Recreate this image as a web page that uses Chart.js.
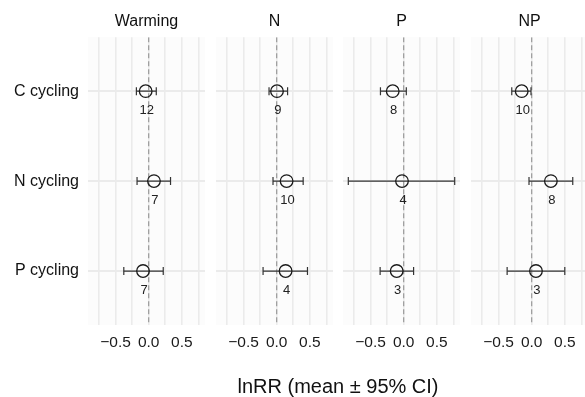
<!DOCTYPE html>
<html>
<head>
<meta charset="utf-8">
<script src="https://cdn.jsdelivr.net/npm/chart.js@4.4.0/dist/chart.umd.min.js"></script>
<style>
  html, body { margin: 0; padding: 0; background: #fff; overflow: hidden; }
  #wrap { position: relative; width: 585px; height: 397px; overflow: hidden; }
  #wrap canvas { position: absolute; left: 0; top: 0; }
  #xtitle { position: absolute; left: 88px; width: 500px; top: 374px; text-align: center;
            font: 20px 'Liberation Sans', Arial, sans-serif; line-height: 24px; color: #111; }
</style>
</head>
<body>
<div id="wrap">
  <canvas id="c0" width="600" height="397"></canvas>
  <canvas id="c1" width="600" height="397"></canvas>
  <canvas id="c2" width="600" height="397"></canvas>
  <canvas id="c3" width="600" height="397"></canvas>
  <div id="xtitle">lnRR (mean ± 95% CI)</div>
</div>
<script>
// data
const panelNames = ['Warming', 'N', 'P', 'NP'];
const processes = ['C cycling', 'N cycling', 'P cycling'];

const warmingMean = [-0.045, 0.08, -0.085];
const warmingLow  = [-0.185, -0.175, -0.375];
const warmingHigh = [0.115, 0.33, 0.22];
const warmingN    = [12, 7, 7];

const nMean = [0.005, 0.15, 0.135];
const nLow  = [-0.115, -0.055, -0.205];
const nHigh = [0.165, 0.40, 0.465];
const nN    = [9, 10, 4];

const pMean = [-0.165, -0.025, -0.105];
const pLow  = [-0.35, -0.835, -0.355];
const pHigh = [0.04, 0.77, 0.15];
const pN    = [8, 4, 3];

const npMean = [-0.15, 0.29, 0.065];
const npLow  = [-0.30, -0.04, -0.37];
const npHigh = [-0.01, 0.62, 0.50];
const npN    = [10, 8, 3];

const xGridValues = [-0.75, -0.5, -0.25, 0, 0.25, 0.5, 0.75];
const xTickValues = [-0.5, 0, 0.5];
const xTickLabels = ['\u22120.5', '0.0', '0.5'];

const allMean = [warmingMean, nMean, pMean, npMean];
const allLow = [warmingLow, nLow, pLow, npLow];
const allHigh = [warmingHigh, nHigh, pHigh, npHigh];
const allN = [warmingN, nN, pN, npN];

// layout
const panelLeft = [88, 216, 343, 471];
const panelWidth = 117;
const canvasWidth = 600;

Chart.defaults.font.family = "'Liberation Sans', Arial, sans-serif";
Chart.defaults.color = '#222';

const panelBg = {
  id: 'panelBg',
  beforeDraw(chart) {
    const a = chart.chartArea;
    const c = chart.ctx;
    c.save();
    c.fillStyle = '#fcfcfc';
    c.fillRect(a.left, a.top, a.right - a.left, a.bottom - a.top);
    c.restore();
  }
};

const countLabels = {
  id: 'countLabels',
  afterDatasetsDraw(chart, args, opts) {
    const c = chart.ctx;
    const xs = chart.scales.x, ys = chart.scales.y;
    c.save();
    c.font = "13px 'Liberation Sans', Arial, sans-serif";
    c.fillStyle = '#222';
    c.textAlign = 'center';
    c.textBaseline = 'middle';
    opts.means.forEach((m, r) => {
      c.fillText(String(opts.counts[r]), xs.getPixelForValue(m) + 1, ys.getPixelForValue(r + 1) + 19);
    });
    c.restore();
  }
};

for (let i = 0; i < 4; i++) {
  const means = allMean[i], lows = allLow[i], highs = allHigh[i];
  const datasets = [];

  datasets.push({
    data: means.map((m, r) => ({ x: m, y: r + 1 })),
    pointStyle: 'circle',
    pointRadius: 6.3,
    pointBorderWidth: 1.3,
    pointBorderColor: '#1a1a1a',
    pointBackgroundColor: 'rgba(0,0,0,0)',
    showLine: false,
    order: 0
  });

  for (let r = 0; r < 3; r++) {
    datasets.push({
      data: [{ x: lows[r], y: r + 1 }, { x: highs[r], y: r + 1 }],
      showLine: true,
      borderColor: '#333',
      borderWidth: 1.2,
      pointStyle: 'line',
      rotation: 90,
      pointRadius: 4,
      pointBorderColor: '#333',
      pointBorderWidth: 1.2,
      order: 1
    });
  }

  datasets.push({
    data: [{ x: 0, y: 0.4 }, { x: 0, y: 3.6 }],
    showLine: true,
    borderColor: '#a0a0a0',
    borderWidth: 1.3,
    borderDash: [5, 3],
    pointRadius: 0,
    order: 2
  });

  new Chart(document.getElementById('c' + i), {
    type: 'scatter',
    data: { datasets: datasets },
    plugins: [panelBg, countLabels],
    options: {
      responsive: false,
      animation: false,
      layout: { padding: { left: 0, right: canvasWidth - panelLeft[i] - panelWidth, top: 0, bottom: 0 } },
      plugins: {
        legend: { display: false },
        tooltip: { enabled: false },
        title: {
          display: true,
          text: panelNames[i],
          fullSize: false,
          color: '#111',
          font: { size: 16, weight: 'normal' },
          padding: { top: 12, bottom: 6 }
        },
        countLabels: { means: means, counts: allN[i] }
      },
      scales: {
        x: {
          type: 'linear',
          min: -0.915,
          max: 0.85,
          afterBuildTicks: s => { s.ticks = xGridValues.map(v => ({ value: v })); },
          afterFit: s => { s.height = 72; },
          border: { display: false },
          grid: { color: '#ebebeb', lineWidth: 1.6, drawTicks: false },
          ticks: {
            autoSkip: false,
            maxRotation: 0,
            padding: 8,
            color: '#1a1a1a',
            font: { size: 15.5 },
            callback: v => {
              const k = xTickValues.findIndex(t => Math.abs(t - v) < 1e-9);
              return k >= 0 ? xTickLabels[k] : '';
            }
          }
        },
        y: {
          type: 'linear',
          min: 0.4,
          max: 3.6,
          reverse: true,
          afterBuildTicks: s => { s.ticks = processes.map((p, r) => ({ value: r + 1 })); },
          afterFit: s => { s.width = panelLeft[i]; },
          border: { display: false },
          grid: { color: '#ebebeb', lineWidth: 2, drawTicks: false },
          ticks: {
            display: i === 0,
            padding: 9,
            color: '#111',
            font: { size: 16 },
            callback: v => processes[Math.round(v) - 1]
          }
        }
      }
    }
  });
}
</script>
</body>
</html>
